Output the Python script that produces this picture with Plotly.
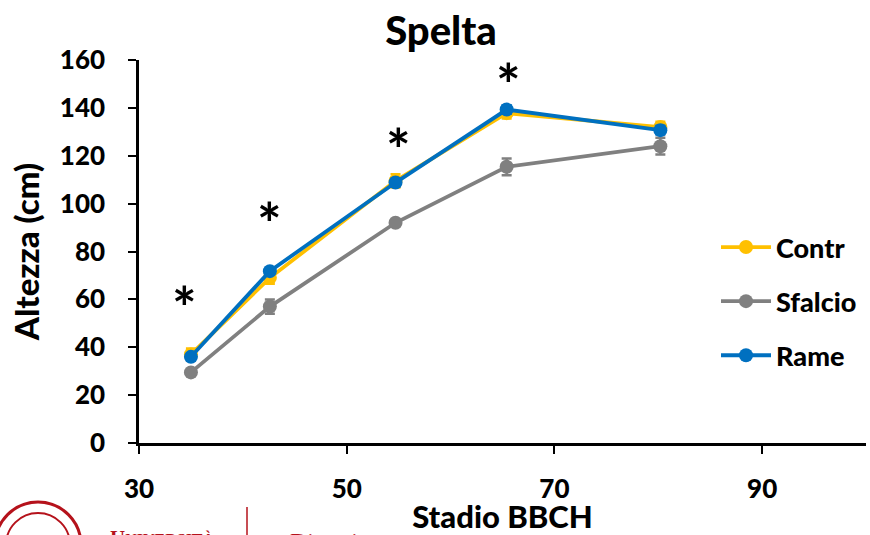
import plotly.graph_objects as go

# Growth-stage (BBCH) sampling points and mean plant height (cm)
stadio = [35, 42.6, 54.7, 65.4, 80.2]
contr = [37.0, 69.0, 109.5, 137.8, 132.0]
contr_err = [2.5, 2.5, 2.8, 2.2, 2.2]
sfalcio = [29.5, 57.0, 92.0, 115.4, 124.0]
sfalcio_err = [1.0, 3.0, 1.2, 3.5, 3.5]
rame = [36.0, 71.8, 108.8, 139.3, 130.7]
rame_err = [1.2, 1.2, 1.5, 1.8, 1.8]

# Significance marks above each stage
sig_x = [34.4, 42.6, 55.0, 65.6]
sig_y = [57, 92, 123, 150]

series = [
    ("Contr", contr, contr_err, "#FFC000"),
    ("Sfalcio", sfalcio, sfalcio_err, "#808080"),
    ("Rame", rame, rame_err, "#0070C0"),
]

FONT = "Lato"

fig = go.Figure()
for i, (name, vals, err, col) in enumerate(series):
    fig.add_trace(go.Scatter(
        x=stadio, y=vals, name=name, mode="lines+markers",
        line=dict(color=col, width=3.8),
        marker=dict(color=col, size=14),
        error_y=dict(type="data", array=err, color=col, thickness=2.5, width=5),
        legendgroup=f"g{i}",
    ))

for sx, sy in zip(sig_x, sig_y):
    fig.add_annotation(x=sx, y=sy, xref="x", yref="y", text="<b>*</b>",
                       showarrow=False,
                       font=dict(family=FONT, size=58, color="black", weight=900))

axis_common = dict(
    showline=True, linecolor="black", linewidth=2.5,
    ticks="outside", ticklen=8, tickwidth=2, tickcolor="black",
    showgrid=False, zeroline=False, automargin=False,
    tickfont=dict(family=FONT, size=26, color="black", weight=900),
)

fig.update_xaxes(range=[30, 100], tickvals=[30, 50, 70, 90],
                 ticklabelstandoff=13,
                 title=dict(text="Stadio BBCH", standoff=5,
                            font=dict(family=FONT, size=31, color="black", weight=900)),
                 **axis_common)
fig.update_yaxes(range=[0, 160], dtick=20,
                 ticklabelstandoff=18,
                 title=dict(text="Altezza (cm)", standoff=11,
                            font=dict(family=FONT, size=33, color="black", weight=900)),
                 **axis_common)

# Institutional logo strip along the bottom-left edge
RED = "#B5121B"
fig.add_shape(type="circle", xref="paper", yref="paper",
              x0=(-5 - 139) / 727, x1=(81 - 139) / 727,
              y0=(443 - 588) / 383, y1=(443 - 502) / 383,
              line=dict(color=RED, width=3))
fig.add_shape(type="circle", xref="paper", yref="paper",
              x0=(6 - 139) / 727, x1=(70 - 139) / 727,
              y0=(443 - 577) / 383, y1=(443 - 513) / 383,
              line=dict(color=RED, width=2))
fig.add_shape(type="line", xref="paper", yref="paper",
              x0=(247 - 139) / 727, x1=(247 - 139) / 727,
              y0=(443 - 540) / 383, y1=(443 - 507) / 383,
              line=dict(color=RED, width=1.5))
fig.add_annotation(xref="paper", yref="paper", x=(108 - 139) / 727, y=(443 - 524) / 383,
                   xanchor="left", yanchor="top", showarrow=False,
                   text="U<span style='font-size:16px'>NIVERSITÀ</span>",
                   font=dict(family="Liberation Serif", size=21, color=RED, weight="bold"))
fig.add_annotation(xref="paper", yref="paper", x=(288 - 139) / 727, y=(443 - 526) / 383,
                   xanchor="left", yanchor="top", showarrow=False,
                   text="Dipartimento",
                   font=dict(family="Liberation Serif", size=24, color=RED))

fig.update_layout(
    width=870, height=535,
    margin=dict(l=139, r=4, t=60, b=92),
    paper_bgcolor="white", plot_bgcolor="white",
    title=dict(text="Spelta", x=(441 - 139) / 727, xref="paper", xanchor="center",
               y=1 - 31 / 535, yanchor="middle",
               font=dict(family=FONT, size=40, color="black", weight=900)),
    showlegend=True,
    legend=dict(x=(716 - 139) / 727, y=(443 - 223) / 383, xanchor="left", yanchor="top",
                font=dict(family=FONT, size=27, color="black", weight=900),
                traceorder="grouped", tracegroupgap=16, itemwidth=50,
                bgcolor="rgba(0,0,0,0)"),
)

fig.write_html("out.html")
